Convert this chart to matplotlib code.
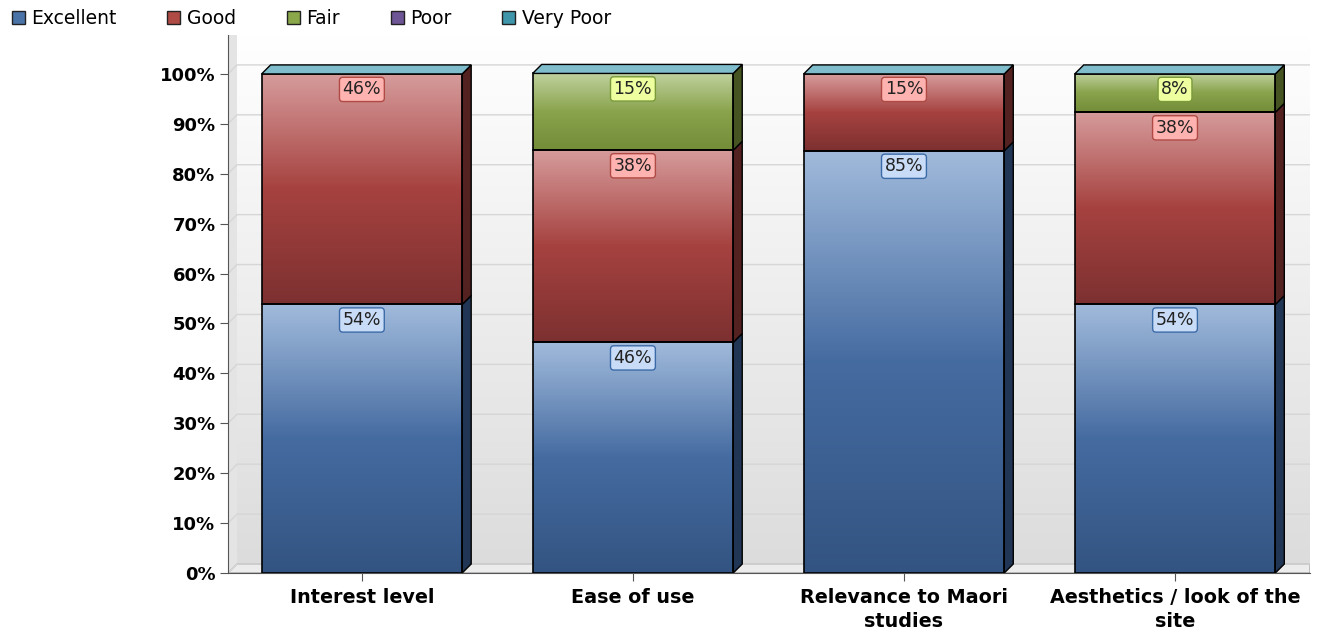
import numpy as np
import matplotlib.pyplot as plt
from matplotlib.patches import Polygon, Rectangle
from matplotlib.colors import LinearSegmentedColormap

categories = ["Interest level", "Ease of use", "Relevance to Maori\nstudies", "Aesthetics / look of the\nsite"]
series_names = ["Excellent", "Good", "Fair", "Poor", "Very Poor"]
excellent = [53.8, 46.2, 84.6, 53.8]
good = [46.2, 38.5, 15.4, 38.5]
fair = [0, 15.4, 0, 7.7]
poor = [0, 0, 0, 0]
very_poor = [0, 0, 0, 0]
labels_excellent = ["54%", "46%", "85%", "54%"]
labels_good = ["46%", "38%", "15%", "38%"]
labels_fair = ["", "15%", "", "8%"]
yticks = [0, 10, 20, 30, 40, 50, 60, 70, 80, 90, 100]

# colours: (top of gradient, middle, bottom, side face, label box face, label box edge)
styles = {
    "Excellent": ((0.63, 0.73, 0.86), (0.27, 0.42, 0.63), (0.20, 0.33, 0.51), (0.13, 0.21, 0.33), "#c9dcf7", "#3b6aa8"),
    "Good": ((0.84, 0.61, 0.61), (0.65, 0.26, 0.25), (0.49, 0.19, 0.19), (0.33, 0.13, 0.13), "#ffb3b0", "#b04a45"),
    "Fair": ((0.75, 0.82, 0.62), (0.54, 0.64, 0.30), (0.45, 0.55, 0.22), (0.27, 0.33, 0.13), "#eeffa0", "#7a9a3a"),
}
legend_colors = ["#4a73a8", "#b04a45", "#8aa84a", "#6e5596", "#3f96aa"]
top_color = (0.50, 0.74, 0.80)

fig = plt.figure(figsize=(13.24, 6.35), dpi=100)
ax = fig.add_axes([228 / 1324, 1 - 573 / 635, (1310 - 228) / 1324, (573 - 35) / 635])
x = np.arange(len(categories))
ax.set_xlim(-0.494, 3.498)
ax.set_ylim(0, 107.8)

bw = 0.74
dx = 9 / 271
dy = 9 / 499 * 100

# back wall gradient
bg = np.linspace(0, 1, 256).reshape(-1, 1)
wall = LinearSegmentedColormap.from_list("wall", ["#ffffff", "#dcdcdc"])
ax.imshow(bg, extent=(-0.494 + dx, 3.498, dy, 107.8), aspect="auto", cmap=wall, zorder=0, origin="upper")
# left wall strip
ax.add_patch(Polygon([(-0.494, 0), (-0.494 + dx, dy), (-0.494 + dx, 107.8), (-0.494, 107.8)],
                     closed=True, facecolor="#e4e4e4", edgecolor="none", zorder=0))
# floor
ax.add_patch(Polygon([(-0.494, 0), (-0.494 + dx, dy), (3.498, dy), (3.498, 0)],
                     closed=True, facecolor="#ececec", edgecolor="#9a9a9a", lw=0.8, zorder=0.5))
for v in yticks:
    ax.plot([-0.494, -0.494 + dx, 3.498], [v, v + dy, v + dy], color="#d6d6d6", lw=1.0, zorder=0.6)

def seg_cmap(name):
    t, m, b = styles[name][:3]
    return LinearSegmentedColormap.from_list(name, [b, m, t])

bottoms = np.zeros(len(categories))
for name, vals, labs in [("Excellent", excellent, labels_excellent),
                         ("Good", good, labels_good),
                         ("Fair", fair, labels_fair)]:
    cm = seg_cmap(name)
    side = styles[name][3]
    for i in range(len(categories)):
        h = vals[i]
        if h <= 0:
            continue
        x0 = x[i] - bw / 2
        x1 = x[i] + bw / 2
        y0 = bottoms[i]
        y1 = y0 + h
        grad = np.linspace(1, 0, 200).reshape(-1, 1)
        ax.imshow(grad, extent=(x0, x1, y0, y1), aspect="auto", cmap=cm, vmin=0, vmax=1,
                  zorder=2, origin="upper")
        ax.add_patch(Rectangle((x0, y0), bw, h, facecolor="none", edgecolor="black", lw=1.2, zorder=3))
        ax.add_patch(Polygon([(x1, y0), (x1 + dx, y0 + dy), (x1 + dx, y1 + dy), (x1, y1)],
                             closed=True, facecolor=side, edgecolor="black", lw=1.0, zorder=2.5))
        if labs[i]:
            ax.text(x[i], y1 - 1.3, labs[i], ha="center", va="top", fontsize=12.5,
                    fontfamily="DejaVu Sans", color="#222222", zorder=5,
                    bbox=dict(boxstyle="round,pad=0.18,rounding_size=0.2",
                              facecolor=styles[name][4], edgecolor=styles[name][5], lw=1.0))
    bottoms += np.array(vals)

# top caps (Very Poor colour)
for i in range(len(categories)):
    x0 = x[i] - bw / 2
    x1 = x[i] + bw / 2
    top = bottoms[i]
    ax.add_patch(Polygon([(x0, top), (x1, top), (x1 + dx, top + dy), (x0 + dx, top + dy)],
                         closed=True, facecolor=top_color, edgecolor="black", lw=1.0, zorder=4))

for s in ["top", "right"]:
    ax.spines[s].set_visible(False)
ax.spines["left"].set_color("#555555")
ax.spines["bottom"].set_color("#555555")
ax.spines["left"].set_zorder(6)

ax.set_yticks(yticks)
ax.set_yticklabels([f"{v}%" for v in yticks], fontsize=13, fontweight="bold")
ax.set_xticks(x)
ax.set_xticklabels(categories, fontsize=13.8, fontweight="bold", linespacing=1.3)
ax.tick_params(axis="y", length=6, color="#555555", pad=3)
ax.tick_params(axis="x", length=6, color="#555555", pad=5)

handles = [Rectangle((0, 0), 1, 1, facecolor=c, edgecolor="#222222", lw=1.0) for c in legend_colors]
fig.legend(handles, series_names, loc="upper left", bbox_to_anchor=(-0.004, 1.012), ncol=5,
           frameon=False, fontsize=13.5, handlelength=0.7, handleheight=0.7,
           handletextpad=0.35, columnspacing=2.7)

fig.savefig("out.png", dpi=100)
